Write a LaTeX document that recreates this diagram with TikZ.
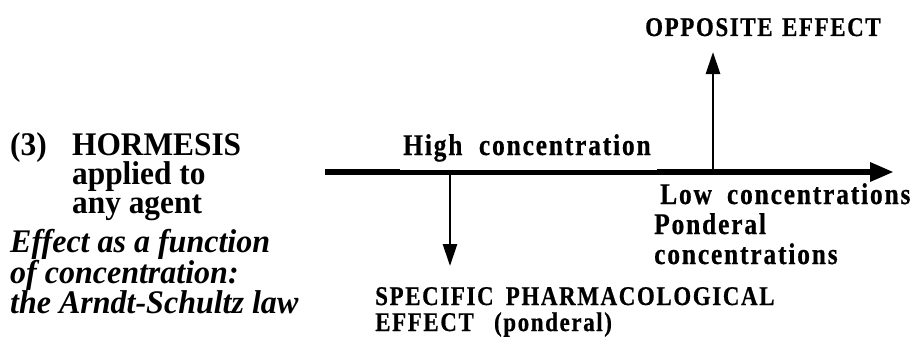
\documentclass[tikz,border=0pt]{standalone}
\usepackage{fontspec}
\setmainfont{Liberation Serif}
\newfontfamily\lsfont{Liberation Serif}[LetterSpace=6,FakeStretch=0.85,BoldFeatures={FakeBold=0.6}]
\newfontfamily\leftfont{Liberation Serif}[FakeStretch=0.95]
\newfontfamily\leftitfont{Liberation Serif}[FakeStretch=0.97]
\usetikzlibrary{arrows.meta}
\begin{document}
\begin{tikzpicture}[x=1pt,y=-1pt,
  lbl/.style={font=\lsfont\bfseries\fontsize{30}{30}\selectfont, inner sep=0pt, anchor=base west, text height=20pt, text depth=6pt},
  caps/.style={font=\lsfont\bfseries\fontsize{27}{27}\selectfont, inner sep=0pt, anchor=base west, text height=18pt, text depth=5pt},
  big/.style={font=\leftfont\bfseries\fontsize{33}{29}\selectfont, inner sep=0pt, anchor=base west, text height=20pt, text depth=5pt},
  bigit/.style={font=\leftitfont\bfseries\itshape\fontsize{33}{30}\selectfont, inner sep=0pt, anchor=base west, text height=20pt, text depth=5pt},
  axisline/.style={line width=6pt, -{Triangle[length=24pt,width=18pt]}},
  arr/.style={line width=2.8pt, -{Triangle[length=22pt,width=14pt]}}]
\useasboundingbox (0,0) rectangle (915,337);
% axis and arrows
\coordinate (ax0) at (325,172);
\coordinate (ax1) at (894,172);
\coordinate (up0) at (713,172);
\coordinate (up1) at (713,52);
\coordinate (dn0) at (450,172);
\coordinate (dn1) at (450,266);
\draw[axisline] (ax0) -- (ax1);
\fill[white] (400,136) rectangle (657,169.8);
\draw[arr] (up0) -- (up1);
\draw[arr] (dn0) -- (dn1);
% right labels
\node[caps] (opp) at (645,36) {OPPOSITE\hspace{0.35em}EFFECT};
\node[lbl] (high) at (403,155) {High\hspace{0.55em}concentration};
\node[lbl] (low) at (660,204) {Low\hspace{0.5em}concentrations};
\node[lbl] (pond) at (654,234) {Ponderal};
\node[lbl] (conc) at (654,264) {concentrations};
\node[caps] (spec) at (375,305) {SPECIFIC\hspace{0.45em}PHARMACOLOGICAL};
\node[caps] (eff) at (375,331) {EFFECT\hspace{0.75em}(ponderal)};
% left text
\node[big] (three) at (10,155) {(3)};
\node[big] (horm) at (72,155) {HORMESIS};
\node[big] (appl) at (72,184) {applied to};
\node[big] (any) at (72,213) {any agent};
\node[bigit] (it1) at (10,252) {Effect as a function};
\node[bigit] (it2) at (10,283) {of concentration:};
\node[bigit] (it3) at (10,313) {the Arndt-Schultz law};
\end{tikzpicture}
\end{document}
